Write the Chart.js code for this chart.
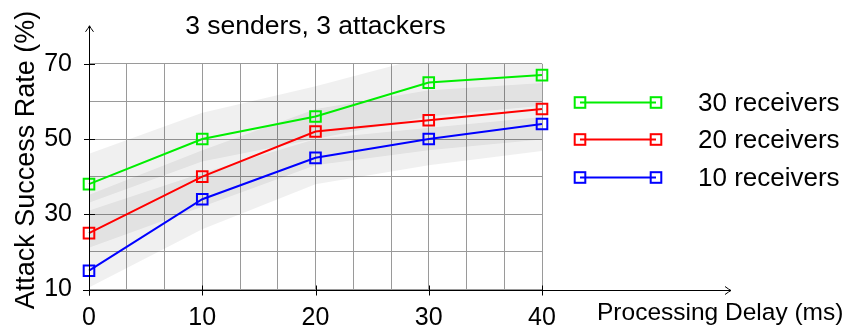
<!DOCTYPE html>
<html>
<head>
<meta charset="utf-8">
<script src="https://cdn.jsdelivr.net/npm/chart.js@4.4.1/dist/chart.umd.min.js"></script>
<style>
  html, body { margin: 0; padding: 0; background: #fff; }
</style>
</head>
<body>
<canvas id="asrChart" width="868" height="328"></canvas>
<script>
// processing delay (ms) on the x axis
const delays = [0, 10, 20, 30, 40];
const seriesLabels = ['30 receivers', '20 receivers', '10 receivers'];
const rate30 = [38, 50, 56, 65, 67];
const rate20 = [25, 40, 52, 55, 58];
const rate10 = [15, 34, 45, 50, 54];
const seriesColors = ['#00ee00', '#ff0000', '#0000ff'];

// grey bands behind the curves, upper and lower edge of each
// (they start a little left of 0 and stop just past 40)
const bandX = [-1, 10, 20, 30, 40.5];
const bandAHigh = [45, 57, 64, 72, 74];
const bandALow = [32, 44, 50, 56, 59];
const bandBHigh = [34, 47, 58, 63, 65];
const bandBLow = [20, 32, 43, 47, 50];
const bandCHigh = [30, 41, 50, 53, 56];
const bandCLow = [9, 26, 38, 43, 47];

const xTickLabels = [0, 10, 20, 30, 40];
const yTickLabels = [10, 30, 50, 70];

const FONT = '"Liberation Sans", Arial, sans-serif';

const toPts = (xs, vals) => xs.map((d, i) => ({ x: d, y: vals[i] }));

const lineSets = [rate30, rate20, rate10].map((vals, i) => ({
    label: seriesLabels[i],
    data: toPts(delays, vals),
    borderColor: seriesColors[i],
    borderWidth: 2,
    pointStyle: 'rect',
    pointRadius: 7.5,
    pointBorderWidth: 2,
    pointBorderColor: seriesColors[i],
    pointBackgroundColor: 'rgba(0,0,0,0)',
    fill: false,
    tension: 0,
    clip: false
}));

function band(hi, lo) {
    const common = {
        borderColor: 'rgba(0,0,0,0)', borderWidth: 0, pointRadius: 0, tension: 0,
        clip: { left: 14, right: 8, top: 6, bottom: 2 }
    };
    return [
        { ...common, data: toPts(bandX, hi), fill: '+1', backgroundColor: 'rgba(0,0,0,0.06)' },
        { ...common, data: toPts(bandX, lo), fill: false }
    ];
}

// axes with arrows, crossing tick marks, y title, x title and the legend
const decorations = {
    id: 'decorations',
    afterDatasetsDraw(chart) {
        const { ctx, chartArea: a, scales: { x, y } } = chart;
        const ax = Math.round(a.left) + 0.5;
        const ay = Math.round(a.bottom) + 0.5;
        const xEnd = a.right + 189;
        const yEnd = a.top - 38;
        ctx.save();
        ctx.strokeStyle = '#000';
        ctx.lineWidth = 1;
        ctx.beginPath();
        ctx.moveTo(a.left - 6, ay); ctx.lineTo(xEnd, ay);
        ctx.moveTo(ax, a.bottom + 6); ctx.lineTo(ax, yEnd);
        xTickLabels.forEach(v => {
            const px = Math.round(x.getPixelForValue(v)) + 0.5;
            ctx.moveTo(px, ay - 5); ctx.lineTo(px, ay + 5);
        });
        yTickLabels.forEach(v => {
            const py = Math.round(y.getPixelForValue(v)) + 0.5;
            ctx.moveTo(ax - 5.5, py); ctx.lineTo(ax + 5.5, py);
        });
        ctx.stroke();

        // arrow heads
        ctx.beginPath();
        ctx.moveTo(xEnd - 6, ay - 4); ctx.quadraticCurveTo(xEnd - 2, ay - 1, xEnd, ay);
        ctx.quadraticCurveTo(xEnd - 2, ay + 1, xEnd - 6, ay + 4);
        ctx.moveTo(ax - 4, yEnd + 6); ctx.quadraticCurveTo(ax - 1, yEnd + 2, ax, yEnd);
        ctx.quadraticCurveTo(ax + 1, yEnd + 2, ax + 4, yEnd + 6);
        ctx.stroke();

        ctx.fillStyle = '#000';
        ctx.font = '24.5px ' + FONT;
        ctx.textAlign = 'left';
        ctx.textBaseline = 'alphabetic';
        ctx.fillText('Processing Delay (ms)', a.right + 55, 320);

        ctx.save();
        ctx.translate(33.5, 160);
        ctx.rotate(-Math.PI / 2);
        ctx.font = '27px ' + FONT;
        ctx.textAlign = 'center';
        ctx.fillText('Attack Success Rate (%)', 0, 0);
        ctx.restore();

        // legend: line with a square at both ends
        ctx.font = '26px ' + FONT;
        ctx.textBaseline = 'middle';
        lineSets.forEach((ds, i) => {
            const ly = Math.round(a.top + 37.7 * (i + 1)) + 0.5;
            const x1 = a.right + 38, x2 = a.right + 114;
            ctx.strokeStyle = ds.borderColor;
            ctx.lineWidth = 2;
            ctx.beginPath();
            ctx.moveTo(x1, ly); ctx.lineTo(x2, ly);
            ctx.stroke();
            [x1, x2].forEach(px => ctx.strokeRect(px - 5.3, ly - 5.3, 10.6, 10.6));
            ctx.fillText(ds.label, a.right + 156, ly + 1);
        });
        ctx.restore();
    }
};

const ctx = document.getElementById('asrChart').getContext('2d');
const asrChart = new Chart(ctx, {
    type: 'line',
    data: {
        datasets: [
            ...lineSets,
            ...band(bandAHigh, bandALow),
            ...band(bandBHigh, bandBLow),
            ...band(bandCHigh, bandCLow)
        ]
    },
    options: {
        responsive: false,
        animation: false,
        events: [],
        layout: { padding: { left: 0, right: 326, top: 0, bottom: 0 } },
        scales: {
            x: {
                type: 'linear',
                min: 0,
                max: 40,
                afterFit: s => { s.height = 38.5; },
                border: { display: false },
                grid: { color: '#9a9a9a', lineWidth: 1, drawTicks: false },
                ticks: {
                    stepSize: 10 / 3,
                    autoSkip: false,
                    maxRotation: 0,
                    padding: 14,
                    color: '#000',
                    font: { family: FONT, size: 25 },
                    callback: v => {
                        const t = xTickLabels.find(l => Math.abs(l - v) < 1e-6);
                        return t === undefined ? '' : String(t);
                    }
                }
            },
            y: {
                min: 10,
                max: 70,
                afterFit: s => { s.width = 89; },
                border: { display: false },
                grid: { color: '#9a9a9a', lineWidth: 1, drawTicks: false },
                ticks: {
                    stepSize: 10,
                    padding: 17,
                    color: '#000',
                    font: { family: FONT, size: 25 },
                    callback: v => yTickLabels.includes(v) ? String(v) : ''
                }
            }
        },
        plugins: {
            legend: { display: false },
            tooltip: { enabled: false },
            title: {
                display: true,
                text: '3 senders, 3 attackers',
                fullSize: false,
                color: '#000',
                font: { family: FONT, size: 26.5, weight: 'normal' },
                padding: { top: 11, bottom: 21 }
            }
        }
    },
    plugins: [decorations]
});
</script>
</body>
</html>
